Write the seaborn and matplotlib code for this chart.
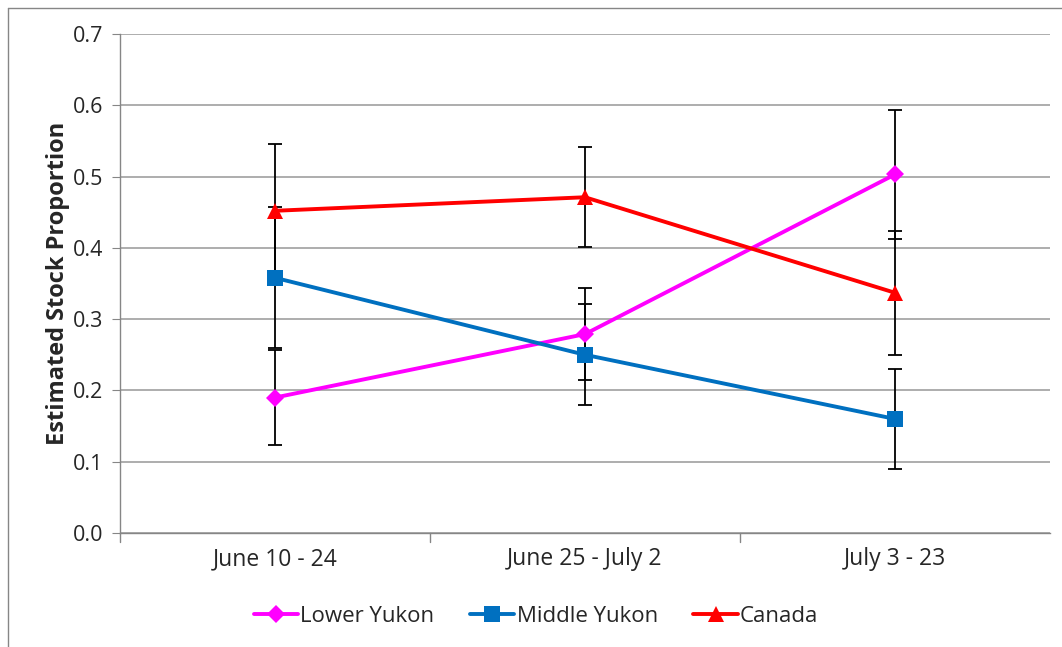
import pandas as pd
import matplotlib
matplotlib.use("Agg")
import matplotlib.pyplot as plt
import seaborn as sns
from matplotlib.lines import Line2D

# Data
periods = ["June 10 - 24", "June 25 - July 2", "July 3 - 23"]
lower_yukon = [0.190, 0.279, 0.503]
middle_yukon = [0.358, 0.250, 0.160]
canada = [0.452, 0.471, 0.337]
lower_err = [0.067, 0.064, 0.090]
middle_err = [0.099, 0.071, 0.070]
canada_err = [0.094, 0.070, 0.087]

series = ["Lower Yukon", "Middle Yukon", "Canada"]
colors = {"Lower Yukon": "#FF00FF", "Middle Yukon": "#0070C0", "Canada": "#FF0000"}
markers = {"Lower Yukon": "D", "Middle Yukon": "s", "Canada": "^"}
msizes = {"Lower Yukon": 9, "Middle Yukon": 11.5, "Canada": 12}

rows = []
for name, vals in zip(series, [lower_yukon, middle_yukon, canada]):
    for p, v in zip(periods, vals):
        rows.append({"Period": p, "Stock": name, "Proportion": v})
df = pd.DataFrame(rows)
errs = {"Lower Yukon": lower_err, "Middle Yukon": middle_err, "Canada": canada_err}

sns.set_style("white")
plt.rcParams["font.family"] = ["Open Sans", "DejaVu Sans"]

fig = plt.figure(figsize=(10.62, 6.47), dpi=100)
ax = fig.add_axes([120 / 1062, 114 / 647, 930 / 1062, 499 / 647])

# Error bars underneath
for name in series:
    ax.errorbar(
        range(len(periods)),
        df[df["Stock"] == name]["Proportion"],
        yerr=errs[name],
        fmt="none",
        ecolor="black",
        elinewidth=1.3,
        capsize=5,
        capthick=1.3,
        zorder=2,
    )

# Lines with markers
for name in series:
    sub = df[df["Stock"] == name]
    sns.lineplot(
        data=sub,
        x="Period",
        y="Proportion",
        color=colors[name],
        marker=markers[name],
        markersize=msizes[name],
        markeredgewidth=0,
        linewidth=2.8,
        ax=ax,
        zorder=3,
        sort=False,
    )

ax.set_xlim(-0.5, 2.5)
ax.set_ylim(0, 0.7)
ax.set_yticks([i / 10 for i in range(8)])
ax.set_yticklabels([f"{i / 10:.1f}" for i in range(8)], fontsize=15.5)
ax.set_xticks(range(len(periods)))
ax.set_xticklabels(periods, fontsize=16.5)
ax.tick_params(axis="x", length=0, pad=10)
ax.tick_params(axis="y", length=6, color="#868686", direction="out", left=True, pad=6)

# category boundary ticks on the x axis
for b in [-0.5, 0.5, 1.5]:
    ax.plot([b, b], [0, -0.012], color="#868686", lw=1, clip_on=False)

ax.yaxis.grid(True, color="#A0A0A0", lw=1.2)
ax.set_axisbelow(True)
for s in ["top", "right"]:
    ax.spines[s].set_visible(False)
for s in ["left", "bottom"]:
    ax.spines[s].set_color("#868686")
    ax.spines[s].set_linewidth(1)

ax.set_xlabel("")
ax.set_ylabel("Estimated Stock Proportion", fontsize=17, fontweight="bold", labelpad=2)

handles = [
    Line2D([0], [0], color=colors[n], marker=markers[n], markersize=msizes[n],
           markeredgewidth=0, lw=2.8)
    for n in series
]
fig.legend(handles, series, loc="center", bbox_to_anchor=(536 / 1062, 31 / 647), ncol=3,
           frameon=False, fontsize=16, handlelength=2.0, handletextpad=0.1,
           columnspacing=1.6)

# chart frame
fig.add_artist(Line2D([8 / 1062, 8 / 1062], [0, 639 / 647], color="#868686", lw=1))
fig.add_artist(Line2D([8 / 1062, 1], [639 / 647, 639 / 647], color="#868686", lw=1))

fig.savefig("out.png", dpi=100)
